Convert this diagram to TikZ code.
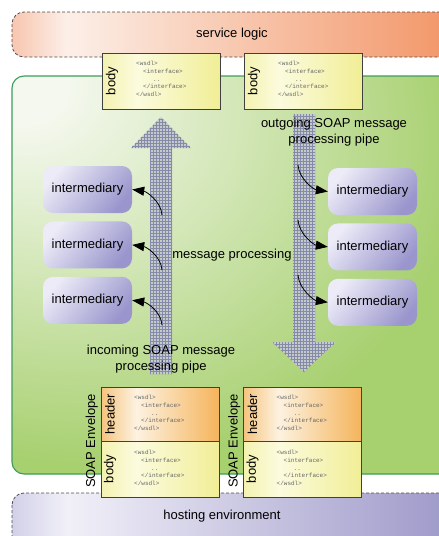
\documentclass[tikz,border=0pt]{standalone}
\usepackage{fontspec}
\setmainfont{Liberation Sans}
\newfontfamily\codefont{Liberation Mono}
\usetikzlibrary{positioning,arrows.meta,patterns}

\definecolor{svcL}{HTML}{F8C6B0}
\definecolor{svcP}{HTML}{FCEFE8}
\definecolor{svcR}{HTML}{F29262}
\definecolor{hostL}{HTML}{D2D0E8}
\definecolor{hostP}{HTML}{F1F0F8}
\definecolor{hostR}{HTML}{9A95C7}
\definecolor{grP}{HTML}{F4F8EE}
\definecolor{grR}{HTML}{A7D06F}
\definecolor{envgreen}{HTML}{3E9C5A}
\definecolor{bodyL}{HTML}{F4F2B0}
\definecolor{bodyP}{HTML}{FBFBDE}
\definecolor{bodyR}{HTML}{F1EE96}
\definecolor{hdrL}{HTML}{F5C47E}
\definecolor{hdrP}{HTML}{FDF2E0}
\definecolor{hdrR}{HTML}{F4B45C}
\definecolor{intP}{HTML}{ECEBF7}
\definecolor{intR}{HTML}{9A96CD}
\definecolor{pipebg}{HTML}{C6CAC8}
\definecolor{pipeline}{HTML}{848AAA}

\pgfdeclarehorizontalshading{svcshade}{100bp}{color(0bp)=(svcL); color(25bp)=(svcL);
  color(31bp)=(svcP); color(75bp)=(svcR); color(100bp)=(svcR)}
\pgfdeclarehorizontalshading{hostshade}{100bp}{color(0bp)=(hostL); color(25bp)=(hostL);
  color(31bp)=(hostP); color(75bp)=(hostR); color(100bp)=(hostR)}
\pgfdeclarehorizontalshading{bodyshade}{100bp}{color(0bp)=(bodyL); color(25bp)=(bodyL);
  color(40bp)=(bodyP); color(75bp)=(bodyR); color(100bp)=(bodyR)}
\pgfdeclarehorizontalshading{hdrshade}{100bp}{color(0bp)=(hdrL); color(25bp)=(hdrL);
  color(40bp)=(hdrP); color(75bp)=(hdrR); color(100bp)=(hdrR)}
\pgfdeclareradialshading{greenshade}{\pgfpoint{-25bp}{25bp}}{color(0bp)=(grP);
  color(5bp)=(grP); color(40bp)=(grR); color(110bp)=(grR)}

\newcommand{\wsdlcode}{<wsdl>\\
  \hspace*{7pt}<interface>\\
  \hspace*{17pt}..\\
  \hspace*{7pt}</interface>\\
  </wsdl>}

\tikzset{
  lbl/.style={font=\fontsize{13}{16}\selectfont},
  region/.style={draw=black!70, dash pattern=on 3pt off 2pt, line width=0.8pt,
    rounded corners=12pt, shade},
  docbox/.style={draw=black!75, line width=0.8pt, minimum width=118pt,
    minimum height=56pt, inner sep=0pt, outer sep=0pt, shade},
  bodybox/.style={docbox, shading=bodyshade},
  hdrbox/.style={docbox, shading=hdrshade, minimum height=54pt},
  side/.style={lbl, rotate=90, inner sep=1pt},
  wsdl/.style={font=\codefont\fontsize{6}{7.6}\selectfont, text=black!60,
    align=left, inner sep=0pt},
  interm/.style={lbl, rounded corners=10pt, minimum width=89pt, minimum height=47pt,
    top color=intP, bottom color=intR, shading angle=50},
  pipe/.style={preaction={fill=pipebg}, pattern=grid, pattern color=pipeline},
  hop/.style={-{Triangle[length=12pt,width=9pt]}, line width=0.8pt}
}

\begin{document}
\begin{tikzpicture}[x=1pt, y=-1pt]
\useasboundingbox (0,0) rectangle (439,536);

% layers
\path [region, shading=svcshade] (12,12) rectangle (470,57);
\node [lbl] (svc) at (232,34) {service logic};

\path [draw=envgreen, line width=1.1pt, rounded corners=12pt, shade,
  shading=greenshade] (12,76) rectangle (470,474);

\path [region, shading=hostshade] (12,493) rectangle (470,570);
\node [lbl] (host) at (222,516) {hosting environment};

% pipes
\path [pipe] (150,374) -- (150,148) -- (131,148) -- (161,117) -- (191,148)
  -- (172,148) -- (172,374) -- cycle;
\path [pipe] (293,114) -- (293,342) -- (272,342) -- (304,372) -- (336,342)
  -- (315,342) -- (315,114) -- cycle;

\node [lbl, align=center] (outlbl) at (334,132) {outgoing SOAP message\\processing pipe};
\node [lbl, align=center] (inlbl) at (161,359) {incoming SOAP message\\processing pipe};
\node [lbl] (msgproc) at (232,255) {message processing};

% intermediaries
\node [interm] (in1) at (87.5,189.5) {intermediary};
\node [interm, below=8pt of in1] (in2) {intermediary};
\node [interm, below=8pt of in2] (in3) {intermediary};
\node [interm] (out1) at (372.5,191.5) {intermediary};
\node [interm, below=8pt of out1] (out2) {intermediary};
\node [interm, below=8pt of out2] (out3) {intermediary};

\foreach \i/\y in {1/215,2/270,3/325} {
  \coordinate (up\i) at (162,\y);
  \draw [hop] (up\i) .. controls +(-1,-14) and +(14,2) .. (in\i.east);
}
\foreach \i/\y in {1/165,2/220,3/275} {
  \coordinate (down\i) at (298,\y);
  \draw [hop] (down\i) .. controls +(1,14) and +(-14,-2) .. (out\i.west);
}

% service side
\foreach \s/\x in {L/161,R/303} {
  \node [bodybox] (svcbody\s) at (\x,81) {};
  \node [side] (svcbodylbl\s) at ([xshift=10pt]svcbody\s.west) {body};
  \node [wsdl, anchor=west] (svccode\s) at ([xshift=34pt,yshift=2pt]svcbody\s.west) {\wsdlcode};
}

% envelopes
\foreach \s/\x in {L/160,R/302.5} {
  \node [hdrbox] (hdr\s) at (\x,414) {};
  \node [bodybox, below=0pt of hdr\s] (envbody\s) {};
  \node [side] (hdrlbl\s) at ([xshift=9pt]hdr\s.west) {header};
  \node [side] (envbodylbl\s) at ([xshift=9pt]envbody\s.west) {body};
  \node [wsdl, anchor=west] (hdrcode\s) at ([xshift=33pt,yshift=1pt]hdr\s.west) {\wsdlcode};
  \node [wsdl, anchor=west] (envcode\s) at ([xshift=33pt,yshift=1pt]envbody\s.west) {\wsdlcode};
  \node [side, anchor=south] (envlbl\s) at ([xshift=-2pt]hdr\s.south west) {SOAP Envelope};
}
\end{tikzpicture}
\end{document}
